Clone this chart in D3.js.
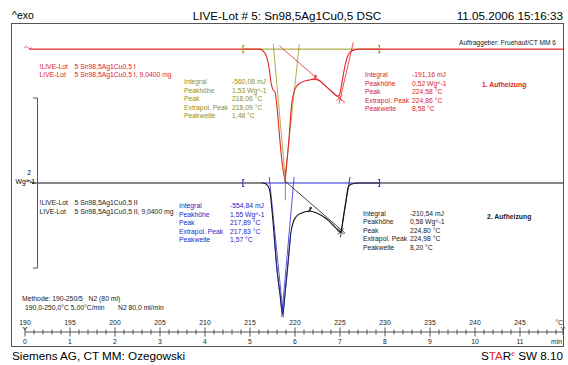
<!DOCTYPE html>
<html>
<head>
<meta charset="utf-8">
<script src="https://cdn.jsdelivr.net/npm/d3@7"></script>
<style>
  body { margin: 0; background: #fff; }
  svg text { font-family: "Liberation Sans", Arial, Helvetica, sans-serif; white-space: pre; }
</style>
</head>
<body>
<svg id="chart" width="568" height="365"></svg>
<script>
// ---- DSC data: temperature (°C) vs. normalized heat flow (W/g, endothermic down)
// 1. Aufheizung (first heating run)
const run1Temp = [190.5, 200, 210, 215, 216.11, 216.48, 216.86, 217.14, 217.33, 217.52, 217.78, 217.97, 218.26, 218.59, 218.89,
  219.08, 219.37, 219.63, 219.89, 220.19, 220.74, 221.48, 222.14, 222.78, 223.52, 224.26, 224.70, 224.92, 225.19, 225.44,
  225.74, 226.11, 226.67, 227.22, 235, 249.8];
const run1Flow = [0, 0, 0, 0, 0, -0.024, -0.094, -0.235, -0.388, -0.47, -0.506, -0.647, -1.0, -1.353, -1.53,
  -1.353, -1.0, -0.647, -0.506, -0.435, -0.388, -0.365, -0.353, -0.376, -0.447, -0.518, -0.553, -0.541, -0.412, -0.259,
  -0.118, -0.035, -0.006, 0, 0, 0];
// 2. Aufheizung (second heating run)
const run2Temp = [190.8, 200, 210, 216.48, 216.92, 217.22, 217.41, 217.67, 217.97, 218.33, 218.63, 218.89, 219.26, 219.52,
  219.81, 220.19, 220.74, 221.59, 222.41, 223.52, 224.44, 225.08, 225.37, 225.67, 225.92, 226.3, 227.22, 235, 249.8];
const run2Flow = [0, 0, 0, 0, -0.024, -0.106, -0.282, -0.6, -0.988, -1.306, -1.55, -1.306, -0.906, -0.6,
  -0.459, -0.388, -0.353, -0.329, -0.353, -0.424, -0.518, -0.58, -0.4, -0.2, -0.047, -0.012, 0, 0, 0];
// vertical display offset of run 1 above run 2 (W/g)
const run1Offset = 1.575;

// axis ticks
const tempTicks = [190, 195, 200, 205, 210, 215, 220, 225, 230, 235, 240, 245];
const minuteTicks = [0, 1, 2, 3, 4, 5, 6, 7, 8, 9, 10, 11];
const minorTicks = d3.range(190, 250, 1);

// peak evaluations: [labels, values]
const evalLabels = ["Integral", "Peakhöhe", "Peak", "Extrapol. Peak", "Peakweite"];
const evalPeak1Run1 = ["-560,08 mJ", "1,53 Wg^-1", "218,06 °C", "218,09 °C", "1,48 °C"];
const evalPeak2Run1 = ["-191,16 mJ", "0,52 Wg^-1", "224,58 °C", "224,86 °C", "8,58 °C"];
const evalPeak1Run2 = ["-554,84 mJ", "1,55 Wg^-1", "217,89 °C", "217,83 °C", "1,57 °C"];
const evalPeak2Run2 = ["-210,54 mJ", "0,58 Wg^-1", "224,80 °C", "224,98 °C", "8,20 °C"];

// integration limits, tangents and markers (°C, W/g)
const limits = [214.2, 229.4];
const tangentsPeak1Run1 = [[[217.59, 0.06], [218.95, -1.56]], [[220.48, 0.06], [218.85, -1.56]]];
const tangentsPeak1Run2 = [[[217.14, 0.07], [218.72, -1.58]], [[219.90, 0.07], [218.52, -1.58]]];
const tangentsPeak2Run1 = [[[218.26, 0.04], [225.56, -0.63]], [[224.90, -0.64], [226.48, 0.08]]];
const tangentsPeak2Run2 = [[[218.81, 0.03], [225.56, -0.59]], [[225.04, -0.64], [226.11, 0.07]]];
const crossPeak2 = [[224.94, -0.575], [225.10, -0.57]];
const markPeak2 = [[222.14, -0.353], [221.59, -0.33]];

// colours
const cRed = "#e3262b", cRedTxt = "#d9242a", cOlive = "#9b9b1f", cOliveTxt = "#8f8f1c",
      cBlue = "#2b2bd6", cBlueTxt = "#2626c8", cBlack = "#111";

const svg = d3.select("#chart");

// scales: 9 px per °C (5 °C/min), 85 px per W/g
const x = d3.scaleLinear().domain([190, 250]).range([25, 565]);
const y = d3.scaleLinear().domain([-1, 1]).range([268, 98]);
const minScale = d3.scaleLinear().domain([0, 12]).range([25, 565]);

// header
svg.append("text").attr("x", 12).attr("y", 19).attr("font-size", 10.5).text("^exo");
svg.append("text").attr("x", 287).attr("y", 19.5).attr("font-size", 11.7).attr("text-anchor", "middle")
  .text("LIVE-Lot # 5: Sn98,5Ag1Cu0,5 DSC");
svg.append("text").attr("x", 563).attr("y", 19.5).attr("font-size", 11.7).attr("text-anchor", "end")
  .text("11.05.2006 15:16:33");

// frame
svg.append("rect").attr("x", 11.5).attr("y", 23.5).attr("width", 552).attr("height", 323)
  .attr("fill", "none").attr("stroke", "#555").attr("stroke-width", 1);

svg.append("text").attr("x", 556).attr("y", 45).attr("font-size", 6.6).attr("text-anchor", "end")
  .attr("fill", "#222").text("Auftraggeber: Fruehauf/CT MM 6");

// small start symbol of each curve
function startMark(T, yy, col) {
  const x0 = x(T) - 5;
  svg.append("path")
    .attr("d", `M${x0},${yy - 1} c1.2,-2.2 2.4,-2.2 3.4,-0.6 s2.2,1.6 3.4,0`)
    .attr("fill", "none").attr("stroke", col).attr("stroke-width", 0.8);
}

const line = (off) => d3.line().x(d => x(d[0])).y(d => y(d[1] + off)).curve(d3.curveMonotoneX);
const seg = (off) => d3.line().x(d => x(d[0])).y(d => y(d[1] + off));

// ---- evaluation overlays (drawn beneath the curves)
function bracket(T, off, col, right) {
  const cx = x(T), cy = y(off);
  const s = right ? -1.5 : 1.5;
  svg.append("path").attr("d", `M${cx + s},${cy - 3.5} h${-s} v7 h${s}`)
    .attr("fill", "none").attr("stroke", col).attr("stroke-width", 1.1);
}
function drawTangents(list, off, col) {
  list.forEach(t => svg.append("path").attr("d", seg(off)(t)).attr("fill", "none")
    .attr("stroke", col).attr("stroke-width", 0.8));
}
function cross(p, off, col) {
  const cx = x(p[0]), cy = y(p[1] + off);
  svg.append("path").attr("d", `M${cx - 3},${cy - 3} L${cx + 3},${cy + 3} M${cx - 3},${cy + 3} L${cx + 3},${cy - 3}`)
    .attr("stroke", col).attr("stroke-width", 0.8);
}
function mark(p, off, col) {
  const cx = x(p[0]), cy = y(p[1] + off);
  svg.append("path").attr("d", `M${cx - 1},${cy + 1} L${cx + 2},${cy - 3} M${cx},${cy - 3} L${cx + 2.5},${cy - 3.5}`)
    .attr("stroke", col).attr("stroke-width", 1.2).attr("fill", "none");
}

// run 1: olive (first peak) and red (second peak)
svg.append("path").attr("d", seg(run1Offset)([[limits[0], 0], [limits[1], 0]]))
  .attr("stroke", cOlive).attr("stroke-width", 1);
drawTangents(tangentsPeak1Run1, run1Offset, cOlive);
svg.append("path").attr("d", seg(run1Offset)([[218.93, -1.42], [218.93, -1.78]]))
  .attr("stroke", cOlive).attr("stroke-width", 1);
drawTangents(tangentsPeak2Run1, run1Offset, cRed);

// run 2: blue (first peak) and black (second peak)
svg.append("path").attr("d", seg(0)([[216.3, 0], [limits[1], 0]]))
  .attr("stroke", cBlue).attr("stroke-width", 1);
drawTangents(tangentsPeak1Run2, 0, cBlue);
drawTangents(tangentsPeak2Run2, 0, cBlack);

// ---- curves
const run1 = run1Temp.map((t, i) => [t, run1Flow[i]]);
const run2 = run2Temp.map((t, i) => [t, run2Flow[i]]);
svg.append("path").attr("d", line(run1Offset)(run1)).attr("fill", "none")
  .attr("stroke", cRed).attr("stroke-width", 1.1);
svg.append("path").attr("d", line(0)(run2)).attr("fill", "none")
  .attr("stroke", cBlack).attr("stroke-width", 1.1);
// blue overlay on the second-run peak flanks
svg.append("path").attr("d", line(0)(run2.filter(d => d[0] > 217.5 && d[0] < 219.6))).attr("fill", "none")
  .attr("stroke", cBlue).attr("stroke-width", 0.7).attr("opacity", 0.85);
startMark(run1Temp[0], y(run1Offset), cRed);
startMark(run2Temp[0], y(0), cBlack);

// markers on top
bracket(limits[0], run1Offset, cOlive, false);
bracket(limits[1], run1Offset, cOlive, true);
bracket(limits[0], 0, cBlue, false);
bracket(limits[1], 0, cBlue, true);
cross(crossPeak2[0], run1Offset, cRed);
cross(crossPeak2[1], 0, cBlack);
mark(markPeak2[0], run1Offset, cRed);
mark(markPeak2[1], 0, cBlack);

// ---- scale bracket (2 W/g)
svg.append("path").attr("d", `M${33},${y(1)} H${37.5} V${y(-1)} H${33}`)
  .attr("fill", "none").attr("stroke", "#555").attr("stroke-width", 1);
svg.append("text").attr("x", 31).attr("y", 174.5).attr("font-size", 6.8).attr("text-anchor", "end").text("2");
svg.append("text").attr("x", 35).attr("y", 183.5).attr("font-size", 6.8).attr("text-anchor", "end").text("Wg^-1");

// ---- sample legends
function legend(y0, col, lines) {
  lines.forEach((l, i) => {
    svg.append("text").attr("x", 39.5).attr("y", y0 + i * 8.6).attr("font-size", 6.8).attr("fill", col).text(l[0]);
    svg.append("text").attr("x", 74.5).attr("y", y0 + i * 8.6).attr("font-size", 6.8).attr("fill", col).text(l[1]);
  });
}
legend(68.5, cRedTxt, [["!LIVE-Lot", "5 Sn98,5Ag1Cu0,5 I"], ["LIVE-Lot", "5 Sn98,5Ag1Cu0,5 I, 9,0400 mg"]]);
legend(205, "#222", [["!LIVE-Lot", "5 Sn98,5Ag1Cu0,5 II"], ["LIVE-Lot", "5 Sn98,5Ag1Cu0,5 II, 9,0400 mg"]]);

// ---- evaluation tables
function table(xl, xv, y0, col, vals) {
  evalLabels.forEach((lab, i) => {
    svg.append("text").attr("x", xl).attr("y", y0 + i * 8.5).attr("font-size", 6.8).attr("fill", col).text(lab);
    svg.append("text").attr("x", xv).attr("y", y0 + i * 8.5).attr("font-size", 6.8).attr("fill", col).text(vals[i]);
  });
}
table(184, 232, 84, cOliveTxt, evalPeak1Run1);
table(365, 412, 77, cRedTxt, evalPeak2Run1);
table(179, 230, 208, cBlueTxt, evalPeak1Run2);
table(363, 410, 215.5, "#222", evalPeak2Run2);

svg.append("text").attr("x", 482).attr("y", 87).attr("font-size", 6.8).attr("font-weight", "bold")
  .attr("fill", cRedTxt).text("1. Aufheizung");
svg.append("text").attr("x", 487).attr("y", 219).attr("font-size", 6.8).attr("font-weight", "bold")
  .attr("fill", "#222").text("2. Aufheizung");

// ---- method
svg.append("text").attr("x", 22).attr("y", 301).attr("font-size", 6.8).attr("fill", "#222")
  .text("Methode: 190-250/5   N2 (80 ml)");
svg.append("text").attr("x", 25).attr("y", 310).attr("font-size", 6.8).attr("fill", "#222")
  .text("190,0-250,0°C 5,00°C/min");
svg.append("text").attr("x", 118).attr("y", 310).attr("font-size", 6.8).attr("fill", "#222")
  .text("N2 80,0 ml/min");

// ---- bottom axis: temperature above, time below
const axisY = 332;
const ax = svg.append("g").attr("stroke", "#444").attr("stroke-width", 0.9);
ax.append("line").attr("x1", x(190)).attr("x2", 563).attr("y1", axisY).attr("y2", axisY);
ax.selectAll(".minor").data(minorTicks.filter(t => t % 5 !== 0)).enter().append("line")
  .attr("x1", d => x(d)).attr("x2", d => x(d)).attr("y1", axisY - 2.5).attr("y2", axisY + 2.5);
ax.selectAll(".major").data(tempTicks).enter().append("line")
  .attr("x1", d => x(d)).attr("x2", d => x(d)).attr("y1", axisY - 4.5).attr("y2", axisY + 4.5);
// arrow heads at both ends
ax.append("path").attr("d", `M${x(190) - 2},${axisY - 5} L${x(190)},${axisY - 2} L${x(190) + 2},${axisY - 5}`)
  .attr("fill", "none");
ax.append("path").attr("d", `M${561},${axisY - 5} L${563},${axisY - 2} L${565},${axisY - 5} M563,${axisY - 2} V${axisY + 3}`)
  .attr("fill", "none");

svg.selectAll(".tl").data(tempTicks).enter().append("text")
  .attr("x", d => x(d)).attr("y", 324.5).attr("font-size", 6.8).attr("text-anchor", "middle")
  .attr("fill", "#222").text(d => d);
svg.selectAll(".ml").data(minuteTicks).enter().append("text")
  .attr("x", d => minScale(d)).attr("y", 344).attr("font-size", 6.8).attr("text-anchor", "middle")
  .attr("fill", "#222").text(d => d);
svg.append("text").attr("x", 563).attr("y", 324.5).attr("font-size", 6.8).attr("text-anchor", "end")
  .attr("fill", "#222").text("°C");
svg.append("text").attr("x", 562).attr("y", 344).attr("font-size", 6.8).attr("text-anchor", "end")
  .attr("fill", "#222").text("min");

// ---- footer
svg.append("text").attr("x", 12).attr("y", 360).attr("font-size", 11.7).text("Siemens AG, CT MM: Ozegowski");
const star = svg.append("text").attr("x", 563).attr("y", 360).attr("font-size", 11.7).attr("text-anchor", "end");
star.append("tspan").text("S");
star.append("tspan").attr("fill", cRed).text("TA");
star.append("tspan").text("R");
star.append("tspan").attr("fill", cRed).attr("font-size", 6.5).attr("dy", -4.5).text("e");
star.append("tspan").attr("dy", 4.5).text(" SW 8.10");
</script>
</body>
</html>
